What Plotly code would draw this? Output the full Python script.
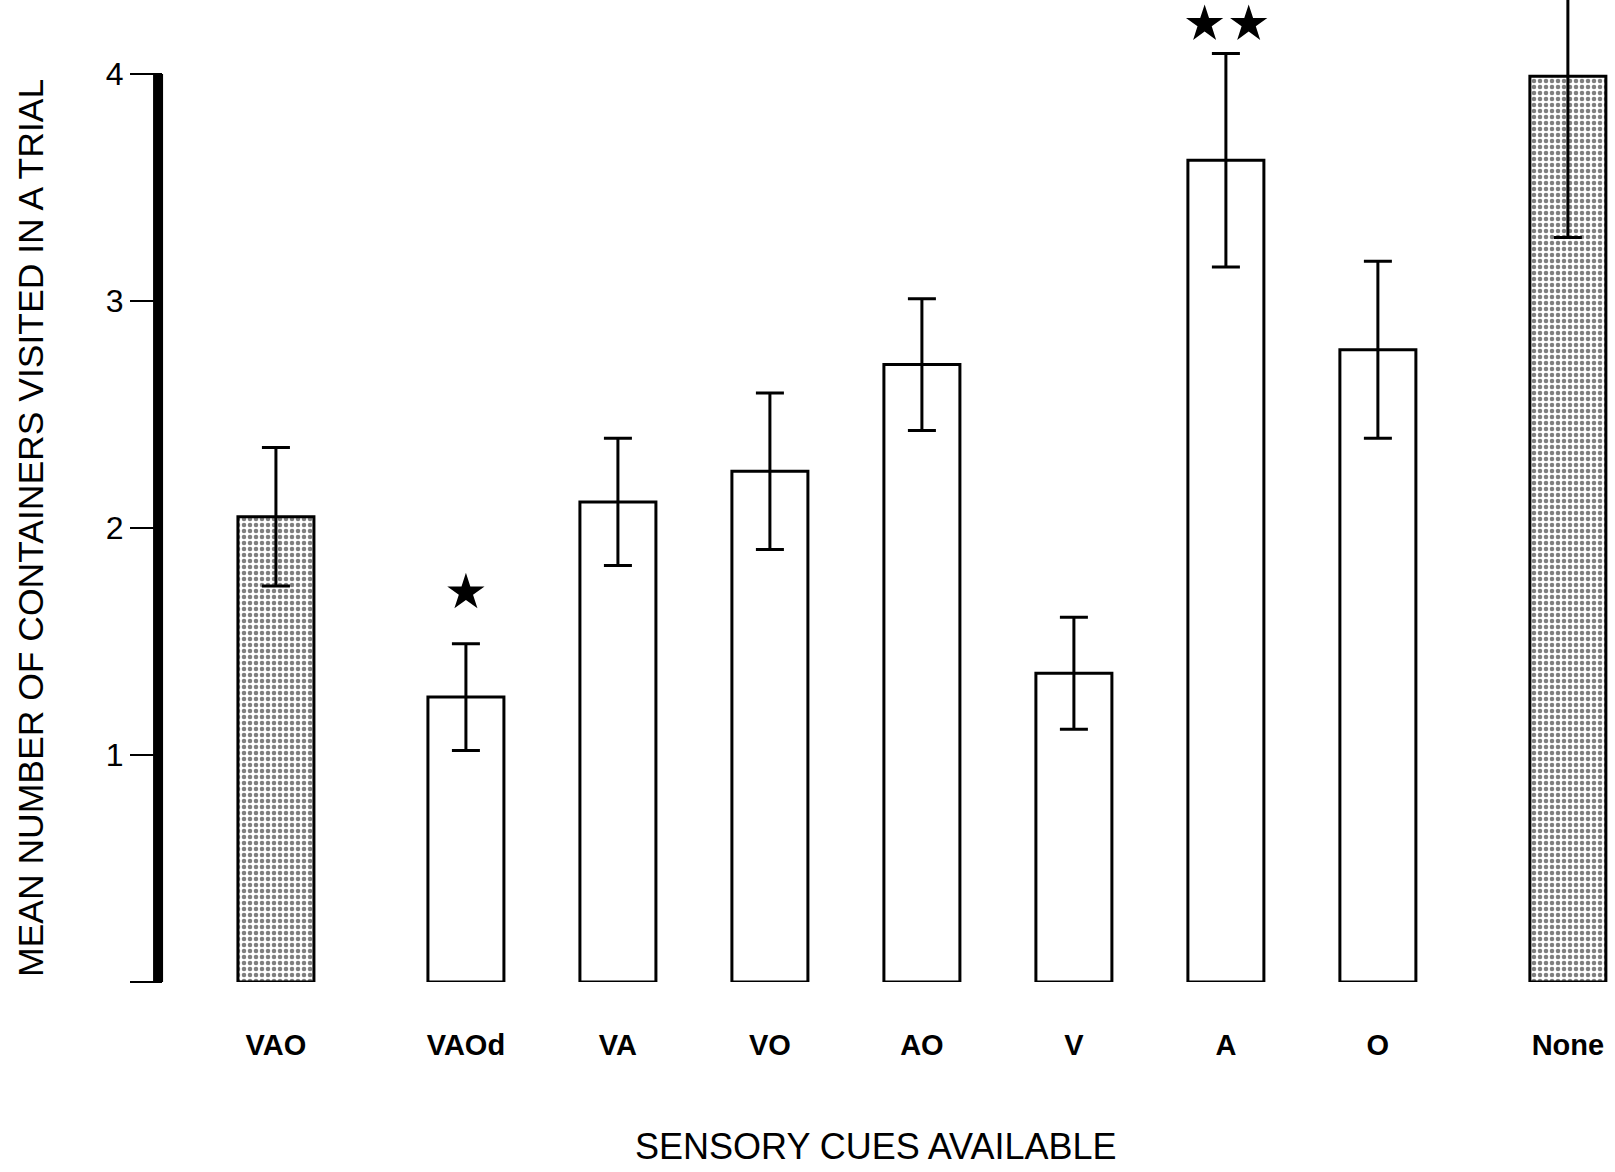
import plotly.graph_objects as go

# Sensory-cue conditions and their x positions (extra gap around the control bars)
conditions = ["VAO", "VAOd", "VA", "VO", "AO", "V", "A", "O", "None"]
x_pos = [0, 1.25, 2.25, 3.25, 4.25, 5.25, 6.25, 7.25, 8.5]

# Mean number of containers visited per trial, with error half-widths
means = [2.05, 1.255, 2.115, 2.25, 2.72, 1.36, 3.62, 2.785, 3.99]
errors = [0.305, 0.235, 0.28, 0.345, 0.29, 0.247, 0.47, 0.39, 0.71]

# Control conditions are stippled, cue conditions are open
stippled = [True, False, False, False, False, False, False, False, True]

# Significance stars: (x position, height)
star_x = [1.25, 6.11, 6.40]
star_y = [1.716, 4.22, 4.22]

y_ticks = [0, 1, 2, 3, 4]
y_tick_text = ["", "1", "2", "3", "4"]

FONT = "Liberation Sans, Arial, Helvetica, sans-serif"

fig = go.Figure()

fig.add_trace(go.Bar(
    x=x_pos,
    y=means,
    width=0.5,
    marker=dict(
        color="white",
        line=dict(color="black", width=3),
        pattern=dict(
            shape=["." if s else "" for s in stippled],
            fgcolor="black",
            bgcolor="white",
            size=6,
            solidity=0.45,
            fillmode="overlay",
        ),
    ),
    error_y=dict(type="data", array=errors, visible=True,
                 color="black", thickness=3, width=14),
    showlegend=False,
))

fig.add_trace(go.Scatter(
    x=star_x,
    y=star_y,
    mode="markers",
    marker=dict(symbol="star", size=28, color="black"),
    showlegend=False,
    cliponaxis=False,
))

# Heavy vertical axis bar spanning 0..4
fig.add_shape(type="line", xref="paper", yref="y",
              x0=-0.0034, x1=-0.0034, y0=0, y1=4,
              line=dict(color="black", width=10))

fig.update_layout(
    width=1615,
    height=1172,
    margin=dict(l=163, r=0, t=0, b=190),
    paper_bgcolor="white",
    plot_bgcolor="white",
    font=dict(family=FONT, color="black"),
    xaxis=dict(
        range=[-0.743, 8.81],
        tickvals=x_pos,
        ticktext=["<b>%s</b>" % c for c in conditions],
        tickfont=dict(size=29, family=FONT),
        ticks="",
        ticklabelstandoff=43,
        showline=False,
        showgrid=False,
        zeroline=False,
    ),
    yaxis=dict(
        range=[0, 4.326],
        tickvals=y_ticks,
        ticktext=y_tick_text,
        tickfont=dict(size=32, family=FONT),
        ticks="outside",
        ticklen=32,
        tickwidth=2,
        tickcolor="black",
        showline=False,
        showgrid=False,
        zeroline=False,
    ),
    annotations=[
        dict(text="SENSORY CUES AVAILABLE", xref="paper", yref="paper",
             x=(876 - 163) / 1452, y=-(1146 - 982) / 982,
             xanchor="center", yanchor="middle", showarrow=False,
             font=dict(size=36, family=FONT)),
        dict(text="MEAN NUMBER OF CONTAINERS VISITED IN A TRIAL",
             xref="paper", yref="paper",
             x=(31 - 163) / 1452, y=1 - 528 / 982,
             xanchor="center", yanchor="middle", textangle=-90,
             showarrow=False, font=dict(size=35.5, family=FONT)),
    ],
)

fig.write_html("out.html")
